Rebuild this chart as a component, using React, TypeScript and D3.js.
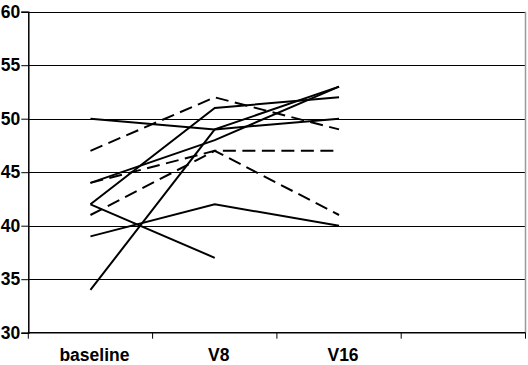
/* eslint-disable */
import React, { useEffect, useRef } from 'react';
import * as d3 from 'd3';

// ------- Data -------
const visits = ['baseline', 'V8', 'V16', ''];
const yTicks = [30, 35, 40, 45, 50, 55, 60];

const solidSeries: (number | null)[][] = [
  [50, 49, 50],
  [44, 48, 53],
  [42, 51, 52],
  [34, 49, 53],
  [39, 42, 40],
  [42, 37, null],
];

const dashedSeries: (number | null)[][] = [
  [47, 52, 49],
  [44, 47, 47],
  [41, 47, 41],
];

const App = () => {
  const ref = useRef<SVGSVGElement>(null);

  useEffect(() => {
    if (!ref.current) return;
    const svg = d3.select(ref.current);
    svg.selectAll('*').remove();

    const width = 528;
    const height = 365;
    const margin = { top: 11.7, right: 2.5, bottom: 32.3, left: 28.3 };
    const font = "'Liberation Sans', Arial, sans-serif";

    const x = d3
      .scaleBand()
      .domain(visits)
      .range([margin.left, width - margin.right]);

    const y = d3
      .scaleLinear()
      .domain([30, 60])
      .range([height - margin.bottom, margin.top]);

    // ------- Grid -------
    svg
      .append('g')
      .selectAll('line')
      .data(yTicks.filter((t) => t > 30))
      .enter()
      .append('line')
      .attr('x1', margin.left)
      .attr('x2', width - margin.right)
      .attr('y1', (d) => Math.round(y(d)) + 0.5)
      .attr('y2', (d) => Math.round(y(d)) + 0.5)
      .attr('stroke', '#000')
      .attr('stroke-width', 1);

    // right border of plot area
    svg
      .append('line')
      .attr('x1', width - margin.right)
      .attr('x2', width - margin.right)
      .attr('y1', margin.top)
      .attr('y2', height - margin.bottom)
      .attr('stroke', '#999')
      .attr('stroke-width', 1.5);

    // ------- Axes -------
    const yAxis = svg
      .append('g')
      .attr('transform', `translate(${margin.left},0)`)
      .call(d3.axisLeft(y).tickValues(yTicks).tickSize(7).tickPadding(1));
    yAxis.select('.domain').attr('stroke', '#000').attr('stroke-width', 1.5);
    yAxis
      .selectAll('text')
      .attr('font-family', font)
      .attr('font-weight', 'bold')
      .attr('font-size', 17.5)
      .attr('fill', '#000');

    const xAxisY = height - margin.bottom;
    const xg = svg.append('g');
    xg.append('line')
      .attr('x1', margin.left)
      .attr('x2', width - margin.right)
      .attr('y1', xAxisY)
      .attr('y2', xAxisY)
      .attr('stroke', '#000')
      .attr('stroke-width', 1.5);
    const bounds = visits.map((v) => x(v)!).concat([width - margin.right]);
    xg.selectAll('line.tick')
      .data(bounds)
      .enter()
      .append('line')
      .attr('class', 'tick')
      .attr('x1', (d) => d)
      .attr('x2', (d) => d)
      .attr('y1', xAxisY)
      .attr('y2', xAxisY + 6)
      .attr('stroke', '#000')
      .attr('stroke-width', 1);
    xg.selectAll('text')
      .data(visits)
      .enter()
      .append('text')
      .attr('x', (d) => x(d)! + x.bandwidth() / 2 + 4)
      .attr('y', 361)
      .attr('text-anchor', 'middle')
      .attr('font-family', font)
      .attr('font-weight', 'bold')
      .attr('font-size', 17.5)
      .attr('fill', '#000')
      .text((d) => d);

    // ------- Lines -------
    const line = d3
      .line<number | null>()
      .defined((d) => d != null)
      .x((_, i) => x(visits[i])! + x.bandwidth() / 2)
      .y((d) => y(d as number));

    svg
      .append('g')
      .selectAll('path')
      .data(solidSeries)
      .enter()
      .append('path')
      .attr('fill', 'none')
      .attr('stroke', '#000')
      .attr('stroke-width', 2)
      .attr('d', line);

    svg
      .append('g')
      .selectAll('path')
      .data(dashedSeries)
      .enter()
      .append('path')
      .attr('fill', 'none')
      .attr('stroke', '#000')
      .attr('stroke-width', 2)
      .attr('stroke-dasharray', '13,6.5')
      .attr('d', line);
  }, []);

  return (
    <svg
      ref={ref}
      width={528}
      height={365}
      style={{ position: 'absolute', left: 0, top: 0, background: '#fff' }}
    />
  );
};

export default App;
